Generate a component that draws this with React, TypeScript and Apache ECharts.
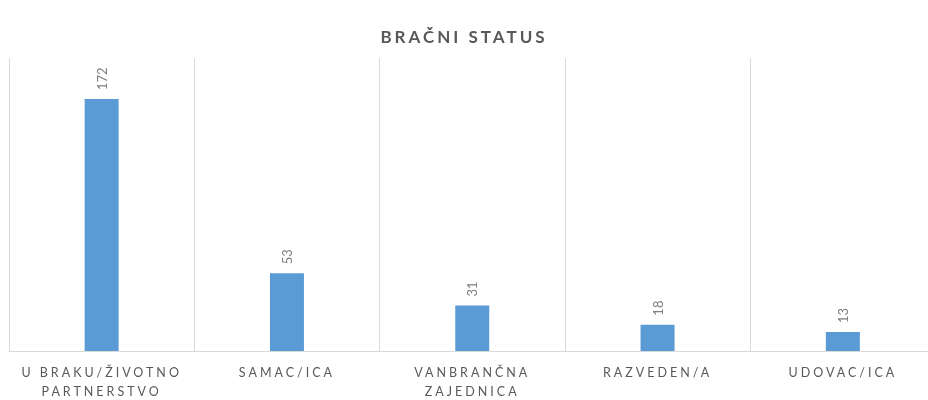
import React, { useEffect, useRef } from "react";
import * as echarts from "echarts";

const title = "BRAČNI STATUS";
const categories = [
  "U BRAKU/ŽIVOTNO\nPARTNERSTVO",
  "SAMAC/ICA",
  "VANBRANČNA\nZAJEDNICA",
  "RAZVEDEN/A",
  "UDOVAC/ICA",
];
const values = [172, 53, 31, 18, 13];

export default function App() {
  const ref = useRef<HTMLDivElement>(null);
  useEffect(() => {
    if (!ref.current) return;
    const chart = echarts.init(ref.current, undefined, { renderer: "svg" });
    chart.setOption({
      animation: false,
      title: {
        text: title,
        left: "center",
        top: 23,
        textStyle: {
          fontFamily: "Lato",
          fontSize: 17,
          fontWeight: "bold",
          color: "#595959",
        },
      },
      grid: {
        left: 9,
        right: -7.5,
        top: 58,
        bottom: 49,
        containLabel: false,
        outerBoundsMode: "none",
      },
      xAxis: {
        type: "category",
        data: categories,
        axisTick: { show: false },
        axisLine: { lineStyle: { color: "#d9d9d9", width: 1 } },
        splitLine: { show: true, lineStyle: { color: "#d9d9d9", width: 1 } },
        axisLabel: {
          interval: 0,
          fontFamily: "Lato",
          fontSize: 12.5,
          color: "#595959",
          lineHeight: 19,
          margin: 12,
        },
      },
      yAxis: {
        type: "value",
        min: 0,
        max: 200,
        show: false,
        splitLine: { show: false },
      },
      series: [
        {
          type: "bar",
          data: values,
          barWidth: 34,
          itemStyle: { color: "#5B9BD5" },
          silent: true,
          label: {
            show: true,
            position: "top",
            rotate: 90,
            align: "left",
            verticalAlign: "middle",
            distance: 9,
            fontFamily: "Lato",
            fontSize: 13,
            color: "#7f7f7f",
          },
        },
      ],
    });
    const lines = new Set<string>();
    categories.forEach((c) => c.split("\n").forEach((l) => lines.add(l)));
    const svg = ref.current.querySelector("svg");
    if (svg) {
      (svg as SVGElement).style.overflow = "visible";
      svg.querySelectorAll("text").forEach((t) => {
        const s = (t.textContent || "").trim();
        if (s === title) t.setAttribute("letter-spacing", "3px");
        else if (lines.has(s)) t.setAttribute("letter-spacing", "3px");
      });
    }
    return () => chart.dispose();
  }, []);
  return (
    <div
      ref={ref}
      style={{ position: "fixed", left: 0, top: 0, width: 928, height: 400 }}
    />
  );
}
